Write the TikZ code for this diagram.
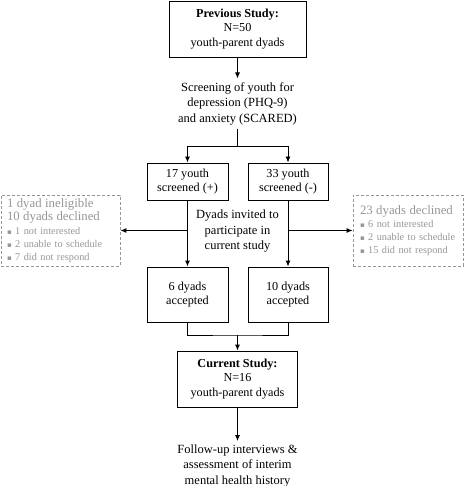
\documentclass[tikz,border=0pt]{standalone}
\usepackage{fontspec}
\setmainfont{Liberation Serif}
\newfontfamily\symfont{DejaVu Sans}
\usetikzlibrary{arrows.meta, positioning}
\definecolor{declgray}{RGB}{150,150,150}
\newcommand{\bul}{{\symfont\fontsize{7}{7}\selectfont ▪}\ }

\begin{document}
\begin{tikzpicture}[x=1pt, y=1pt, >={Latex[length=6pt,width=5pt]}, line width=0.9pt,
    box/.style={draw, align=center, inner sep=2pt, font=\fontsize{12.2}{14.5}\selectfont},
    plain/.style={align=center, font=\fontsize{12.5}{15.5}\selectfont},
    declbox/.style={draw=declgray, dash pattern=on 3pt off 2pt, line width=0.8pt, text=declgray,
        align=left, minimum height=71pt, font=\fontsize{10.3}{12.8}\selectfont}]
    \useasboundingbox (0,0) rectangle (473,-486);

    \node[box, minimum width=137pt, minimum height=56pt] (prev) at (237.5,-29) {\textbf{Previous Study:}\\N=50\\youth-parent dyads};
    \node[plain] (screen) [below of=prev, node distance=74.5pt] {Screening of youth for\\depression (PHQ-9)\\and anxiety (SCARED)};
    \node[box, minimum width=81pt, minimum height=37pt] (pos) at (187.5,-181.5) {17 youth\\screened (+)};
    \node[box, minimum width=80pt, minimum height=37pt] (neg) at (288,-181.5) {33 youth\\screened (-)};
    \node[plain] (invite) at (237.5,-231.5) {Dyads invited to\\participate in\\current study};
    \node[box, minimum width=81pt, minimum height=55pt] (acc6) [below of=pos, node distance=113pt] {6 dyads\\accepted};
    \node[box, minimum width=80pt, minimum height=55pt] (acc10) [below of=neg, node distance=113pt] {10 dyads\\accepted};
    \node[box, minimum width=120pt, minimum height=56pt] (curr) at (237.5,-379) {\textbf{Current Study:}\\N=16\\youth-parent dyads};
    \node[plain] (follow) [below of=curr, node distance=87pt] {Follow-up interviews \&\\assessment of interim\\mental health history};

    \node[declbox, text width=107pt, inner xsep=6pt] (inel) at (60.5,-230.5) {{\fontsize{12.8}{15}\selectfont 1 dyad ineligible\\10 dyads declined}\\[1.5pt]
        \bul 1 not interested\\
        \bul 2 unable to schedule\\
        \bul 7 did not respond};
    \node[declbox, text width=96pt, inner xsep=7pt] (decl) at (408,-230.5) {{\fontsize{12.8}{15}\selectfont 23 dyads declined}\\[1pt]
        \bul 6 not interested\\
        \bul 2 unable to schedule\\
        \bul 15 did not respond};

    \coordinate (split) at (237.5,-146);
    \coordinate (merge) at (237.5,-335);

    \draw[->] (prev) -- (screen);
    \draw (screen) -- (split);
    \draw[->] (split) -| (pos);
    \draw[->] (split) -| (neg);
    \draw[->] (pos) -- (acc6);
    \draw[->] (neg) -- (acc10);
    \draw[->] (pos.south |- inel.east) -- (inel);
    \draw[->] (neg.south |- decl.east) -- (decl);
    \draw (acc6) |- (merge) -| (acc10);
    \draw[->] (merge) -- (curr);
    \draw[->] (curr) -- (follow);
\end{tikzpicture}
\end{document}
